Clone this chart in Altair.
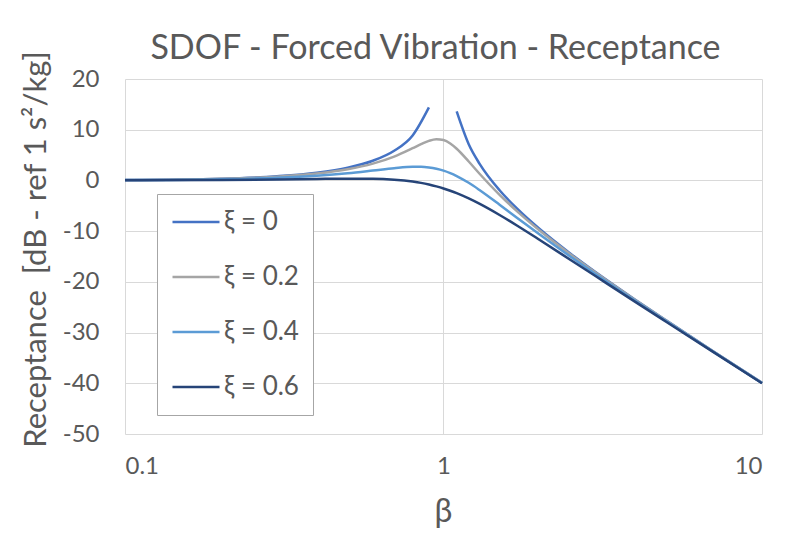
import altair as alt
import pandas as pd

betas = [0.1, 0.2, 0.3, 0.4, 0.5, 0.6, 0.7, 0.8, 0.85, 0.9, 0.95, 1.0, 1.05, 1.1,
         1.2, 1.3, 1.5, 1.7, 2, 2.5, 3, 4, 5, 7, 10]

xi_0 = [0.09, 0.35, 0.82, 1.51, 2.50, 3.88, 5.85, 8.87, None, 14.4, None, None, None, 13.6,
        7.13, 3.22, -1.94, -5.53, -9.54, -14.40, -18.06, -23.52, -27.60, -33.63, -39.91]
xi_02 = [0.08, 0.33, 0.74, 1.36, 2.20, 3.31, 4.70, 6.35, 7.15, 7.81, 8.13, 7.96, 7.28, 6.24,
         3.73, 1.27, -2.84, -6.06, -9.84, -14.56, -18.16, -23.57, -27.63, -33.64, -39.92]
xi_04 = [0.06, 0.24, 0.53, 0.93, 1.41, 1.94, 2.41, 2.68, 2.68, 2.56, 2.31, 1.94, 1.45, 0.87,
         -0.47, -1.93, -4.78, -7.34, -10.63, -14.99, -18.44, -23.72, -27.72, -33.68, -39.94]
xi_06 = [0.02, 0.09, 0.19, 0.29, 0.35, 0.33, 0.15, -0.22, -0.48, -0.80, -1.17, -1.58, -2.04, -2.52,
         -3.56, -4.64, -6.82, -8.88, -11.69, -15.63, -18.86, -23.95, -27.87, -33.76, -39.98]

series_names = ["ξ = 0", "ξ = 0.2", "ξ = 0.4", "ξ = 0.6"]
series_vals = [xi_0, xi_02, xi_04, xi_06]
colors = ["#4472C4", "#A5A5A5", "#5B9BD5", "#264478"]

rows = []
for name, vals in zip(series_names, series_vals):
    # an undefined value at resonance (beta = 1) splits the curve in two branches
    split = vals[betas.index(1.0)] is None
    for b, v in zip(betas, vals):
        if v is None:
            continue
        part = ("lo" if b < 1 else "hi") if split else "all"
        rows.append({"beta": b, "db": v, "series": name, "seg": f"{name}-{part}"})
df = pd.DataFrame(rows)

FONT = "Lato"
GREY = "#595959"

chart = alt.Chart(df).mark_line(strokeWidth=2.5, interpolate="monotone").encode(
    x=alt.X("beta:Q",
            scale=alt.Scale(type="log", domain=[0.1, 10]),
            axis=alt.Axis(values=[0.1, 1, 10], format="~g", title="β",
                          labelPadding=20,
                          titleFontSize=32, titleX=318, titleY=87,
                          titleBaseline="alphabetic")),
    y=alt.Y("db:Q",
            scale=alt.Scale(domain=[-50, 20]),
            axis=alt.Axis(values=list(range(-50, 21, 10)), labelExpr="datum.value + ''",
                          labelPadding=26,
                          title="Receptance\u00a0\u00a0[dB - ref 1 s²/kg]",
                          titleFontSize=31, titleX=-80, titleY=170, titleAngle=270,
                          titleAlign="center", titleBaseline="alphabetic")),
    color=alt.Color("series:N",
                    scale=alt.Scale(domain=series_names, range=colors),
                    legend=alt.Legend(title=None, orient="none", legendX=32, legendY=115,
                                      symbolType="stroke", symbolSize=2209,
                                      symbolStrokeWidth=2.5, labelFontSize=26,
                                      labelColor=GREY, labelFont=FONT, labelOffset=3,
                                      clipHeight=28, rowPadding=27, padding=14,
                                      strokeColor="#A6A6A6", fillColor="white")),
    detail="seg:N",
).properties(
    width=637, height=355,
    title=alt.TitleParams("SDOF - Forced Vibration - Receptance", fontSize=34,
                          font=FONT, color=GREY, fontWeight="normal", offset=-16, dx=-8),
    autosize=alt.AutoSizeParams(type="none"),
    padding={"left": 117, "top": 71, "right": 35, "bottom": 110},
).configure_axis(
    grid=True, gridColor="#D9D9D9", gridWidth=1, domain=False, ticks=False,
    labelFont=FONT, labelFontSize=24, labelColor=GREY,
    titleFont=FONT, titleColor=GREY, titleFontWeight="normal",
).configure_view(stroke=None)

chart.save("out.html", embed_options={"renderer": "svg", "actions": False})
